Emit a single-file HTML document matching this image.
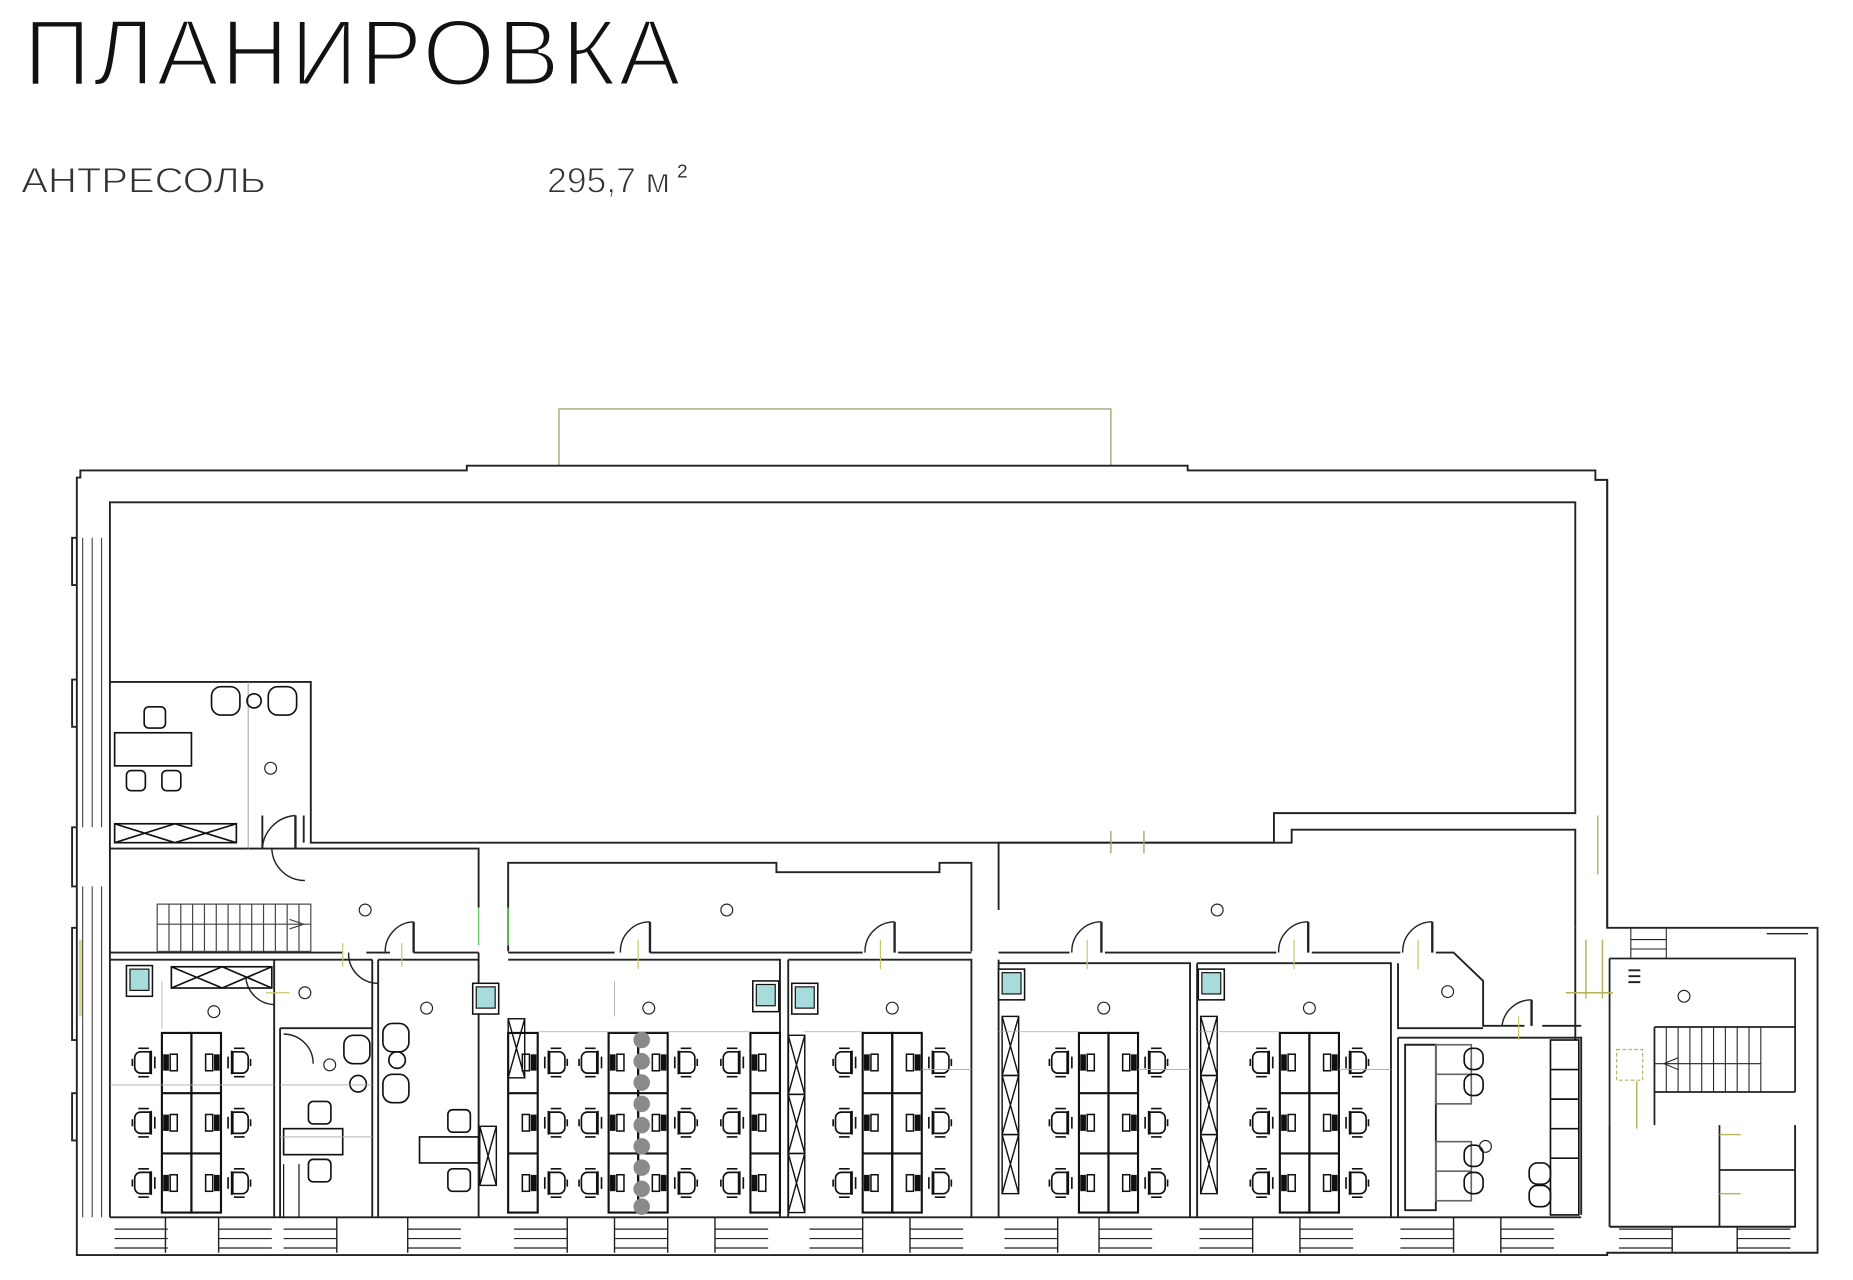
<!DOCTYPE html>
<html><head><meta charset="utf-8"><style>
html,body{margin:0;padding:0;background:#fff;width:1853px;height:1280px;overflow:hidden}
svg{display:block}
</style></head><body>
<svg width="1853" height="1280" viewBox="0 0 1568 1083" xmlns="http://www.w3.org/2000/svg">
<defs>
<g id="chR" fill="none" stroke="#111" stroke-width="1.4">
 <path d="M8,-9 h8 a5,5 0 0 1 5,5 v8 a5,5 0 0 1 -5,5 h-8 z"/>
 <path d="M7,-10 v20 M9,-12 h9 M9,12 h9 M23,-3 v6 M4,-5 v10"/>
</g>
<g id="chL"><use href="#chR" transform="scale(-1,1)"/></g>
<g id="monR" fill="#111"><rect x="-13" y="-7" width="6" height="14" fill="none" stroke="#111" stroke-width="1.3"/><rect x="-5" y="-6" width="3" height="12"/></g>
<g id="monL"><use href="#monR" transform="scale(-1,1)"/></g>
<g id="colL" fill="none" stroke="#111" stroke-width="1.8">
 <rect x="0" y="0" width="25" height="152"/><path d="M0,51 h25 M0,102 h25"/>
 <use href="#chL" x="-2" y="25"/><use href="#chL" x="-2" y="76"/><use href="#chL" x="-2" y="127"/>
 <use href="#monL" x="0" y="25"/><use href="#monL" x="0" y="76"/><use href="#monL" x="0" y="127"/>
</g>
<g id="colR" fill="none" stroke="#111" stroke-width="1.8">
 <rect x="0" y="0" width="25" height="152"/><path d="M0,51 h25 M0,102 h25"/>
 <use href="#chR" x="27" y="25"/><use href="#chR" x="27" y="76"/><use href="#chR" x="27" y="127"/>
 <use href="#monR" x="25" y="25"/><use href="#monR" x="25" y="76"/><use href="#monR" x="25" y="127"/>
</g>
<g id="pair"><use href="#colL"/><use href="#colR" x="25"/></g>
<g id="xbox" fill="none" stroke="#111" stroke-width="1.2"><rect x="0" y="0" width="14" height="50"/><path d="M0,0 L14,50 M14,0 L0,50"/></g>
<g id="sink"><rect x="0" y="0" width="22" height="26" fill="#fff" stroke="#111" stroke-width="1.3"/><rect x="3" y="3" width="16" height="18" fill="#a8dcdc" stroke="#111" stroke-width="1"/></g>
<g id="win" fill="none" stroke="#222" stroke-width="1"><path d="M0,1040 h45 M0,1048 h45 M0,1056 h45"/></g>
</defs>

<!-- Title -->
<text x="20" y="72" font-family="Liberation Sans, sans-serif" font-size="79" fill="#111" stroke="#fff" stroke-width="2.6" textLength="558" lengthAdjust="spacingAndGlyphs" style="letter-spacing:2px">ПЛАНИРОВКА</text>
<text x="18" y="163" font-family="Liberation Sans, sans-serif" font-size="30" fill="#333" stroke="#fff" stroke-width="0.8" textLength="207" lengthAdjust="spacingAndGlyphs">АНТРЕСОЛЬ</text>
<text x="463" y="163" font-family="Liberation Sans, sans-serif" font-size="30" fill="#333" stroke="#fff" stroke-width="0.8">295,7 м</text>
<text x="573" y="150" font-family="Liberation Sans, sans-serif" font-size="16" fill="#333">2</text>

<!-- attic -->
<path d="M473,394 V346 H940 V394" fill="none" stroke="#a9a77a" stroke-width="1.2"/>

<g fill="none" stroke="#222" stroke-width="1.6">
<path d="M68,398 H395 V394 H1005 V398 H1350 V406 H1360 V785 H1538 V1060 H1360 V1062 H65 V404 H68 Z"/>
<path d="M93,577 V1030"/>
<path d="M65,455 h-4 v40 h4 M65,575 h-4 v40 h4 M65,700 h-4 v50 h4 M65,785 h-4 v95 h4 M65,925 h-4 v40 h4"/>
<path d="M70,455 V700 M78,455 V700 M86,455 V700 M70,750 V1030 M78,750 V1030 M86,750 V1030" stroke-width="0.8"/>
<path d="M93,425 H1333 V688 H1078 V713 H263 V577 H93 Z"/>
<path d="M1360,406 V785"/>
<path d="M93,718 H405 V768"/>
<path d="M210,577 V718" stroke="#999" stroke-width="0.8"/>
<path d="M222,718 V690 M250,718 V690 M257,690 V713" />
<path d="M430,805 V730 H657 V738 H795 V730 H822 V770 M822,805 V770"/>
<path d="M845,770 V713 H940 M968,713 H1093 V702 H1333 V785"/>
<path d="M940,703 V722 M968,703 V722" stroke="#a9a77a" stroke-width="1.2"/>
<path d="M405,768 V800 M430,768 V800" stroke="#6c6" stroke-width="1.2"/>
<path d="M93,806 H290 M310,806 H330 M350,806 H405 M405,806 V1030 M430,806 H520 M550,806 H730 M760,806 H822 M845,806 H905 M935,806 H1080 M1110,806 H1185 M1215,806 H1230 L1255,830 V868 H1290 M1305,868 H1338 M1333,785 V880"/>
<path d="M93,812 H232 M232,812 V1030 M237,870 V1030 M237,870 H315 M315,812 V1030 M320,812 V1030 M232,812 H315 M320,812 H405"/>
<path d="M430,812 H660 V1030 M667,812 V1030 M667,812 H822 V1030 M845,812 V1030 M845,815 H1007 V1030 M1013,815 V1030 M1013,815 H1177 V1030 M1183,815 V870 H1255 M1183,878 H1338 V1028 M1183,878 V1030 M1189,884 V1024 H1215 V884 Z"/>
<path d="M93,1030 H1338 M1362,1038 H1519 V952 M1362,952 V1038"/>
</g>

<g>
<use href="#win" x="97"/><use href="#win" x="185"/><use href="#win" x="240"/><use href="#win" x="345"/><use href="#win" x="435"/><use href="#win" x="520"/><use href="#win" x="605"/><use href="#win" x="685"/><use href="#win" x="770"/><use href="#win" x="850"/><use href="#win" x="930"/><use href="#win" x="1015"/><use href="#win" x="1100"/><use href="#win" x="1185"/><use href="#win" x="1270"/><use href="#win" x="1370"/><use href="#win" x="1470"/>
</g>
<g stroke="#222" stroke-width="1.2" fill="none">
<path d="M140,1030 V1060 M185,1030 V1060 M285,1030 V1060 M345,1030 V1060 M480,1030 V1060 M520,1030 V1060 M565,1030 V1060 M605,1030 V1060 M730,1030 V1060 M770,1030 V1060 M895,1030 V1060 M930,1030 V1060 M1060,1030 V1060 M1100,1030 V1060 M1230,1030 V1060 M1270,1030 V1060 M1415,1038 V1060 M1470,1038 V1060"/>
</g>

<g fill="none" stroke="#222" stroke-width="1.5">
<path d="M1362,811 H1519 V924 M1362,811 V952 M1400,869 H1519 M1400,869 V952 M1400,924 H1519"/>
<path d="M1410,869 V924 M1420,869 V924 M1430,869 V924 M1440,869 V924 M1450,869 V924 M1460,869 V924 M1470,869 V924 M1480,869 V924 M1490,869 V924 M1400,900 H1490" stroke-width="0.9"/>
<path d="M1455,952 V1038 M1455,990 H1519" />
<path d="M1380,785 V811 M1410,785 V811 M1380,795 H1410 M1380,803 H1410" stroke-width="0.9"/>
<path d="M1378,821 h10 M1378,826 h10 M1378,831 h10" stroke-width="1.6"/>
<path d="M1495,790 H1530" stroke-width="1.2"/>
<rect x="1368" y="888" width="22" height="26" stroke="#b6b35a" stroke-dasharray="3,2" stroke-width="1"/>
<path d="M1408,900 l12,-5 M1408,900 l12,5" stroke-width="0.9"/>
</g>
<path d="M1342,795 V845 M1356,795 V845 M1325,840 H1365 M1385,915 V955 M1455,960 h18 M1455,1010 h18 M1352,690 V740" stroke="#b6b35a" stroke-width="1.2" fill="none"/>
<path d="M68,795 V860" stroke="#d8d890" stroke-width="2.5"/>

<g fill="none" stroke="#444" stroke-width="1">
<rect x="133" y="765" width="130" height="40"/>
<path d="M143,765 V805 M153,765 V805 M163,765 V805 M173,765 V805 M183,765 V805 M193,765 V805 M203,765 V805 M213,765 V805 M223,765 V805 M233,765 V805 M243,765 V805 M253,765 V805 M133,782 H263 M245,778 l12,4 l-12,4"/>
</g>

<g fill="none" stroke="#222" stroke-width="1.2">
<path d="M250,690 A30,30 0 0 0 222,718 M230,718 A28,28 0 0 0 258,745 M350,780 A25,25 0 0 0 326,806 M295,806 A25,25 0 0 0 320,832 M208,826 A25,25 0 0 0 232,850 M240,875 A25,25 0 0 1 265,900"/>
<path d="M550,780 A25,25 0 0 0 525,806 M757,780 A25,25 0 0 0 732,806 M932,780 A25,25 0 0 0 907,806 M1107,780 A25,25 0 0 0 1082,806 M1212,780 A25,25 0 0 0 1187,806 M1296,846 A25,25 0 0 0 1271,868"/>
<path d="M550,780 V806 M757,780 V806 M932,780 V806 M1107,780 V806 M1212,780 V806 M1296,846 V868 M350,780 V806 M250,690 V718" stroke-width="2"/>
</g>
<g stroke="#c9c66a" stroke-width="1" fill="none">
<path d="M540,795 V820 M745,795 V820 M920,795 V820 M1095,795 V820 M1200,795 V820 M1285,860 V880 M340,798 V818 M290,798 V818 M225,840 h20"/>
</g>

<g fill="none" stroke="#222" stroke-width="1">
<circle cx="229" cy="650" r="5"/><circle cx="309" cy="770" r="5"/><circle cx="615" cy="770" r="5"/><circle cx="1030" cy="770" r="5"/>
<circle cx="181" cy="856" r="5"/><circle cx="258" cy="840" r="5"/><circle cx="279" cy="901" r="5"/><circle cx="361" cy="853" r="5"/>
<circle cx="549" cy="853" r="5"/><circle cx="755" cy="853" r="5"/><circle cx="934" cy="853" r="5"/><circle cx="1108" cy="853" r="5"/>
<circle cx="1225" cy="839" r="5"/><circle cx="1425" cy="843" r="5"/><circle cx="1257" cy="970" r="5"/>
</g>

<g fill="none" stroke="#111" stroke-width="1.4">
<rect x="97" y="620" width="65" height="28"/>
<rect x="122" y="598" width="18" height="18" rx="4"/><rect x="107" y="652" width="16" height="17" rx="4"/><rect x="137" y="652" width="16" height="17" rx="4"/>
<rect x="179" y="581" width="24" height="24" rx="8"/><circle cx="215" cy="593" r="6"/><rect x="227" y="581" width="24" height="24" rx="8"/>
<rect x="97" y="697" width="103" height="16"/><path d="M97,697 L148,713 M148,697 L97,713 M148,697 L200,713 M200,697 L148,713"/>
<rect x="145" y="818" width="85" height="18"/><path d="M145,818 L188,836 M188,818 L145,836 M188,818 L230,836 M230,818 L188,836"/>
<rect x="291" y="876" width="22" height="24" rx="8"/><circle cx="303" cy="917" r="7"/>
<rect x="324" y="866" width="22" height="24" rx="8"/><circle cx="336" cy="897" r="7"/><rect x="324" y="909" width="22" height="24" rx="8"/>
<rect x="240" y="955" width="50" height="22"/><rect x="261" y="932" width="19" height="19" rx="4"/><rect x="261" y="981" width="19" height="19" rx="4"/>
<path d="M240,1030 V985 M253,1030 V985" stroke-width="1"/>
<rect x="355" y="962" width="50" height="22"/><rect x="379" y="939" width="19" height="19" rx="4"/><rect x="379" y="989" width="19" height="19" rx="4"/>
</g>
<use href="#sink" x="107" y="817"/><use href="#sink" x="400" y="832"/><use href="#sink" x="637" y="830"/><use href="#sink" x="670" y="832"/><use href="#sink" x="845" y="820"/><use href="#sink" x="1014" y="820"/>
<use href="#xbox" x="430" y="862"/><use href="#xbox" x="406" y="953"/><use href="#xbox" x="667" y="876"/><use href="#xbox" x="667" y="926"/><use href="#xbox" x="667" y="976"/>
<use href="#xbox" x="848" y="860"/><use href="#xbox" x="848" y="910"/><use href="#xbox" x="848" y="960"/>
<use href="#xbox" x="1016" y="860"/><use href="#xbox" x="1016" y="910"/><use href="#xbox" x="1016" y="960"/>

<use href="#pair" x="137" y="874"/>
<use href="#colR" x="430" y="874"/>
<use href="#pair" x="515" y="874"/>
<use href="#colL" x="635" y="874"/>
<use href="#pair" x="730" y="874"/>
<use href="#pair" x="913" y="874"/>
<use href="#pair" x="1083" y="874"/>
<g fill="#8a8a8a">
<circle cx="543" cy="880" r="7"/><circle cx="543" cy="898" r="7"/><circle cx="543" cy="916" r="7"/><circle cx="543" cy="934" r="7"/><circle cx="543" cy="952" r="7"/><circle cx="543" cy="970" r="7"/><circle cx="543" cy="988" r="7"/><circle cx="543" cy="1006" r="7"/><circle cx="543" cy="1021" r="7"/>
</g>

<g stroke="#aaa" stroke-width="0.7" fill="none">
<path d="M93,918 H232 M237,918 H315 M237,962 H315 M455,873 H635 M680,873 H730 M780,905 H822 M845,873 H913 M963,905 H1007 M1013,873 H1083 M1133,905 H1177 M520,830 V860 M137,830 V870"/>
</g>

<g fill="none" stroke="#111" stroke-width="1.4">
<rect x="1215" y="884" width="30" height="50" stroke="#666"/><path d="M1215,909 h30" stroke="#666"/>
<rect x="1215" y="966" width="30" height="50" stroke="#666"/><path d="M1215,991 h30" stroke="#666"/>
<rect x="1239" y="887" width="16" height="18" rx="7"/><rect x="1239" y="909" width="16" height="18" rx="7"/>
<rect x="1239" y="969" width="16" height="18" rx="7"/><rect x="1239" y="992" width="16" height="18" rx="7"/>
<rect x="1294" y="984" width="18" height="18" rx="7"/><rect x="1294" y="1003" width="18" height="18" rx="7"/>
<rect x="1312" y="880" width="24" height="148"/><path d="M1312,905 h24 M1312,930 h24 M1312,955 h24 M1312,980 h24"/>
</g>
</svg>
</body></html>
